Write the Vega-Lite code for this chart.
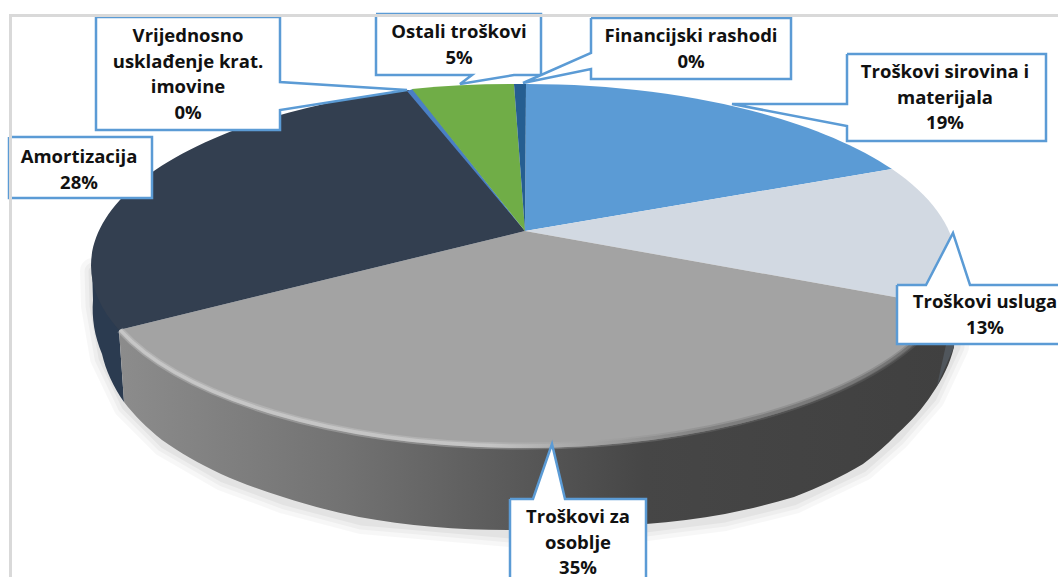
{"$schema":"https://vega.github.io/schema/vega-lite/v6.json","width":1058,"height":577,"padding":0,"autosize":{"type":"none"},"background":"white","view":{"stroke":null},
"datasets":{
"costs":[
{"category":"Troškovi sirovina i materijala","value":19,"label":"Troškovi sirovina i\nmaterijala\n19%","labelX":945,"labelY":72},
{"category":"Troškovi usluga","value":13,"label":"Troškovi usluga\n13%","labelX":985,"labelY":302},
{"category":"Troškovi za osoblje","value":35,"label":"Troškovi za\nosoblje\n35%","labelX":578,"labelY":517},
{"category":"Amortizacija","value":28,"label":"Amortizacija\n28%","labelX":79,"labelY":157},
{"category":"Vrijednosno usklađenje krat. imovine","value":0,"label":"Vrijednosno\nusklađenje krat.\nimovine\n0%","labelX":188,"labelY":36},
{"category":"Ostali troškovi","value":5,"label":"Ostali troškovi\n5%","labelX":459,"labelY":32},
{"category":"Financijski rashodi","value":0,"label":"Financijski rashodi\n0%","labelX":691,"labelY":36}
],
"callouts":[
{"c":"a","s":1,"x":847,"y":54},{"c":"a","s":2,"x":1046,"y":54},{"c":"a","s":3,"x":1046,"y":141},{"c":"a","s":4,"x":847,"y":141},{"c":"a","s":5,"x":847,"y":126},{"c":"a","s":6,"x":732,"y":104},{"c":"a","s":7,"x":847,"y":104},{"c":"a","s":8,"x":847,"y":54},
{"c":"b","s":1,"x":96,"y":17},{"c":"b","s":2,"x":280,"y":17},{"c":"b","s":3,"x":280,"y":82},{"c":"b","s":4,"x":407,"y":90},{"c":"b","s":5,"x":280,"y":110},{"c":"b","s":6,"x":280,"y":130},{"c":"b","s":7,"x":96,"y":130},{"c":"b","s":8,"x":96,"y":17},
{"c":"c","s":1,"x":376,"y":14},{"c":"c","s":2,"x":541,"y":14},{"c":"c","s":3,"x":541,"y":75},{"c":"c","s":4,"x":514,"y":75},{"c":"c","s":5,"x":460,"y":84},{"c":"c","s":6,"x":472,"y":75},{"c":"c","s":7,"x":376,"y":75},{"c":"c","s":8,"x":376,"y":14},
{"c":"d","s":1,"x":9,"y":137},{"c":"d","s":2,"x":152,"y":137},{"c":"d","s":3,"x":152,"y":198},{"c":"d","s":4,"x":9,"y":198},{"c":"d","s":5,"x":9,"y":137},
{"c":"e","s":1,"x":591,"y":18},{"c":"e","s":2,"x":791,"y":18},{"c":"e","s":3,"x":791,"y":79},{"c":"e","s":4,"x":591,"y":79},{"c":"e","s":5,"x":591,"y":69},{"c":"e","s":6,"x":523,"y":83},{"c":"e","s":7,"x":591,"y":53},{"c":"e","s":8,"x":591,"y":18},
{"c":"f","s":1,"x":897,"y":285},{"c":"f","s":2,"x":926,"y":285},{"c":"f","s":3,"x":953,"y":233},{"c":"f","s":4,"x":970,"y":285},{"c":"f","s":5,"x":1075,"y":285},{"c":"f","s":6,"x":1075,"y":344},{"c":"f","s":7,"x":897,"y":344},{"c":"f","s":8,"x":897,"y":285},
{"c":"g","s":1,"x":510,"y":499},{"c":"g","s":2,"x":533,"y":499},{"c":"g","s":3,"x":552,"y":444},{"c":"g","s":4,"x":565,"y":499},{"c":"g","s":5,"x":646,"y":499},{"c":"g","s":6,"x":646,"y":595},{"c":"g","s":7,"x":510,"y":595},{"c":"g","s":8,"x":510,"y":499}
],
"frame":[{"x":9,"x2":1058,"y":15.5,"y2":15.5},{"x":10.5,"x2":10.5,"y":15,"y2":577}]
},
"layer":[
{"data":{"values":[{"w":26,"o":0.03},{"w":17,"o":0.035},{"w":9,"o":0.045}]},
"mark":{"type":"point","filled":false,"shape":"M-432,40 L-431,75 L-422,127 L-399,175 L-361,213 L-302,247 L-240,270 L-164,290 L-15,303 L121,297 L200,287 L269,270 L338,237 L372,207 L407,167 L431,116 L435,60","size":4,"opacity":1,"strokeCap":"round","strokeJoin":"round"},
"encoding":{"x":{"datum":525,"type":"quantitative","scale":{"domain":[0,1058],"nice":false,"zero":false},"axis":null},"y":{"datum":231,"type":"quantitative","scale":{"domain":[577,0],"nice":false,"zero":false},"axis":null},"strokeWidth":{"field":"w","type":"quantitative","scale":null},"strokeOpacity":{"field":"o","type":"quantitative","scale":null},"stroke":{"value":"#000000"}}},
{"data":{"values":[{"category":"Amortizacija"}]},
"mark":{"type":"point","filled":true,"size":4,"opacity":1,"fill":"#2b3b50","shape":"M-433,35 L-432,69 A440 220 0 0 0 -423,123 A440 220 0 0 0 -401,171 L-406,99 L-325,35 Z"},
"encoding":{"x":{"datum":525,"type":"quantitative","scale":{"domain":[0,1058],"nice":false,"zero":false},"axis":null},"y":{"datum":231,"type":"quantitative","scale":{"domain":[577,0],"nice":false,"zero":false},"axis":null}}},
{"data":{"values":[{"category":"Troškovi za osoblje"}]},
"mark":{"type":"point","filled":true,"size":4,"opacity":1,"fill":{"x1":0,"x2":1,"y1":0,"y2":0,"gradient":"linear","stops":[{"offset":0,"color":"#8c8c8c"},{"offset":0.27,"color":"#727272"},{"offset":0.45,"color":"#5c5c5c"},{"offset":0.63,"color":"#464646"},{"offset":1,"color":"#404040"}]},"shape":"M-406,99 L-401,171 A440 220 0 0 0 -363,209 A440 220 0 0 0 -304,243 A440 220 0 0 0 -242,266 A440 220 0 0 0 -166,286 A440 220 0 0 0 -15,299 A440 220 0 0 0 121,293 A440 220 0 0 0 200,283 A440 220 0 0 0 269,266 A440 220 0 0 0 338,233 A440 220 0 0 0 372,203 A440 220 0 0 0 407,163 A440 220 0 0 0 429,116 L420,75 Z"},
"encoding":{"x":{"datum":525,"type":"quantitative","scale":{"domain":[0,1058],"nice":false,"zero":false},"axis":null},"y":{"datum":231,"type":"quantitative","scale":{"domain":[577,0],"nice":false,"zero":false},"axis":null}}},
{"data":{"values":[{"category":"Troškovi usluga"}]},
"mark":{"type":"point","filled":true,"size":4,"opacity":1,"fill":"#50565c","shape":"M424,100 L430,100 L429,116 L412,155 Z"},
"encoding":{"x":{"datum":525,"type":"quantitative","scale":{"domain":[0,1058],"nice":false,"zero":false},"axis":null},"y":{"datum":231,"type":"quantitative","scale":{"domain":[577,0],"nice":false,"zero":false},"axis":null}}},
{"data":{"name":"costs"},
"mark":{"type":"point","filled":true,"size":4,"opacity":1},
"encoding":{"x":{"datum":525,"type":"quantitative","scale":{"domain":[0,1058],"nice":false,"zero":false},"axis":null},"y":{"datum":231,"type":"quantitative","scale":{"domain":[577,0],"nice":false,"zero":false},"axis":null},
"shape":{"field":"category","type":"nominal","legend":null,"scale":{"domain":["Troškovi sirovina i materijala","Troškovi usluga","Troškovi za osoblje","Amortizacija","Vrijednosno usklađenje krat. imovine","Ostali troškovi","Financijski rashodi"],"range":["M0,0 L1,-147 A432 182 0 0 1 367,-62 Z","M0,0 L367,-62 A432 182 0 0 1 420,75 Z","M0,0 L420,75 A432 182 0 0 1 -406,99 Z","M0,0 L-406,99 A432 182 0 0 1 -116,-141 Z","M0,0 L-118,-140 L-112,-142 Z","M0,0 L-113,-142 A432 182 0 0 1 -11,-147 Z","M0,0 L-11,-147 A432 182 0 0 1 1,-147 Z"]}},
"color":{"field":"category","type":"nominal","legend":null,"scale":{"domain":["Troškovi sirovina i materijala","Troškovi usluga","Troškovi za osoblje","Amortizacija","Vrijednosno usklađenje krat. imovine","Ostali troškovi","Financijski rashodi"],"range":["#5b9bd5","#d2d9e2","#a3a3a3","#333f50","#4a7fc4","#70ad47","#255e91"]}}}},
{"data":{"values":[{"w":7,"o":0.35},{"w":3.5,"o":0.7}]},
"mark":{"type":"point","filled":false,"size":4,"opacity":1,"stroke":{"x1":0,"x2":1,"y1":0,"y2":0,"gradient":"linear","stops":[{"offset":0,"color":"#cfcfcf"},{"offset":0.45,"color":"#cccccc"},{"offset":0.56,"color":"#a5a5a5"},{"offset":0.72,"color":"#777777"},{"offset":1,"color":"#666666"}]},"shape":"M-405,99 A431 181 0 0 0 -15,215 A431 181 0 0 0 418,78"},
"encoding":{"x":{"datum":525,"type":"quantitative","scale":{"domain":[0,1058],"nice":false,"zero":false},"axis":null},"y":{"datum":231,"type":"quantitative","scale":{"domain":[577,0],"nice":false,"zero":false},"axis":null},"strokeWidth":{"field":"w","type":"quantitative","scale":null},"strokeOpacity":{"field":"o","type":"quantitative","scale":null}}},
{"data":{"name":"callouts"},
"mark":{"type":"line","fill":"white","stroke":"#5b9bd5","strokeWidth":2.5,"strokeJoin":"miter","interpolate":"linear"},
"encoding":{"x":{"field":"x","type":"quantitative","scale":{"domain":[0,1058],"nice":false,"zero":false},"axis":null},"y":{"field":"y","type":"quantitative","scale":{"domain":[577,0],"nice":false,"zero":false},"axis":null},"detail":{"field":"c"},"order":{"field":"s","type":"quantitative"}}},
{"data":{"name":"frame"},
"mark":{"type":"rule","color":"#d9d9d9","strokeWidth":3},
"encoding":{"x":{"field":"x","type":"quantitative","scale":{"domain":[0,1058],"nice":false,"zero":false},"axis":null},"y":{"field":"y","type":"quantitative","scale":{"domain":[577,0],"nice":false,"zero":false},"axis":null},"x2":{"field":"x2"},"y2":{"field":"y2"}}},
{"data":{"name":"costs"},
"mark":{"type":"text","font":"Open Sans","fontWeight":"bold","fontSize":18.5,"lineHeight":25.5,"lineBreak":"\n","align":"center","baseline":"middle","color":"#111111"},
"encoding":{"x":{"field":"labelX","type":"quantitative","scale":{"domain":[0,1058],"nice":false,"zero":false},"axis":null},"y":{"field":"labelY","type":"quantitative","scale":{"domain":[577,0],"nice":false,"zero":false},"axis":null},"text":{"field":"label"}}}
]}
